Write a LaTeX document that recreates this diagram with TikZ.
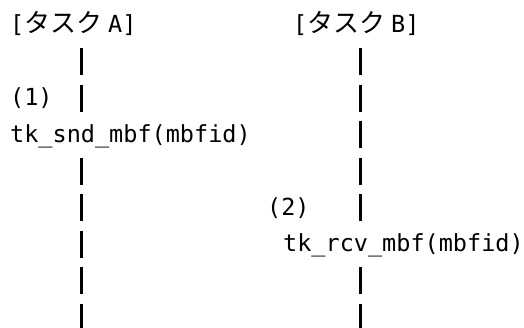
\documentclass[tikz,border=0pt]{standalone}
\usepackage{fontspec}
\setmonofont{DejaVu Sans Mono}
\newfontfamily\jp{Noto Sans CJK JP}
\tikzset{
  txt/.style={anchor=base west, inner sep=0pt, font=\fontsize{23.5}{28}\selectfont\ttfamily},
  life/.style={line width=3.6pt, dash pattern=on 27pt off 9.5pt}
}
\begin{document}
\begin{tikzpicture}[x=1pt,y=1pt]
\useasboundingbox (0,0) rectangle (524,-327);
% texts
\node[txt] (headA) at (10,-32.5) {[{\jp\fontsize{26}{28}\selectfont タスク }A]};
\node[txt] (headB) at (293,-32.5) {[{\jp\fontsize{26}{28}\selectfont タスク }B]};
\node[txt] (n1) at (10,-105.5) {(1)};
\node[txt] (snd) at (10,-142) {tk\_snd\_mbf(mbfid)};
\node[txt] (n2) at (267,-215) {(2)};
\node[txt] (rcv) at (283,-251.5) {tk\_rcv\_mbf(mbfid)};
% lifelines
\coordinate (a1) at (81.5,-48);
\coordinate (a2) at (81.5,-112);
\coordinate (a3) at (81.5,-157.5);
\coordinate (a4) at (81.5,-340);
\coordinate (b1) at (360.5,-48);
\coordinate (b2) at (360.5,-221.5);
\coordinate (b3) at (360.5,-267);
\coordinate (b4) at (360.5,-340);
\draw[life] (a1) -- (a2);
\draw[life] (a3) -- (a4);
\draw[life] (b1) -- (b2);
\draw[life] (b3) -- (b4);
\end{tikzpicture}
\end{document}
